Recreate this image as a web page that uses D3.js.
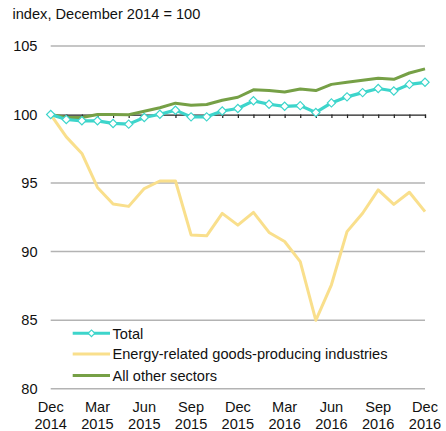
<!DOCTYPE html>
<html>
<head>
    <meta charset="utf-8">
    <script src="https://d3js.org/d3.v7.min.js"></script>
    <style>
        body, html { margin: 0; padding: 0; background: #fff; }
        svg { display: block; font-family: "Liberation Sans", Arial, sans-serif; }
    </style>
</head>
<body>
<div id="chart"></div>
<script>
    // month index 0 = Dec 2014 ... 24 = Dec 2016
    var months = d3.range(25);
    var tickLabels = [
        ["Dec", "2014"], ["Mar", "2015"], ["Jun", "2015"], ["Sep", "2015"], ["Dec", "2015"],
        ["Mar", "2016"], ["Jun", "2016"], ["Sep", "2016"], ["Dec", "2016"]
    ];
    var yTicks = [80, 85, 90, 95, 100, 105];

    var total = [100, 99.64, 99.54, 99.54, 99.35, 99.3, 99.78, 100.02, 100.32, 99.83, 99.83, 100.26,
        100.44, 101.0, 100.75, 100.6, 100.65, 100.15, 100.85, 101.29, 101.6, 101.9, 101.72, 102.2, 102.35];
    var energy = [100, 98.37, 97.16, 94.68, 93.47, 93.3, 94.6, 95.15, 95.15, 91.22, 91.15, 92.79,
        91.93, 92.86, 91.4, 90.74, 89.27, 84.99, 87.58, 91.46, 92.8, 94.5, 93.45, 94.33, 92.92];
    var others = [100, 99.78, 99.78, 100, 100, 99.98, 100.24, 100.5, 100.83, 100.68, 100.73, 101.04,
        101.26, 101.8, 101.75, 101.65, 101.87, 101.75, 102.2, 102.35, 102.5, 102.65, 102.57, 103.03, 103.33];

    var seriesNames = ["Total", "Energy-related goods-producing industries", "All other sectors"];
    var colors = ["#3dd5cb", "#f9df8c", "#76a046"];

    var width = 446, height = 431;
    var fs = 14.6;
    var svg = d3.select("#chart").append("svg")
        .attr("width", width)
        .attr("height", height);

    var x = d3.scaleLinear().domain([0, 24]).range([50.7, 425]);
    var y = d3.scaleLinear().domain([80, 105]).range([388.7, 46]);

    // title
    svg.append("text")
        .attr("x", 12.5)
        .attr("y", 18.5)
        .attr("font-size", fs)
        .attr("fill", "#111")
        .text("index, December 2014 = 100");

    // gridlines
    svg.append("g").selectAll("line")
        .data(yTicks.filter(function(d) { return d !== 100; }))
        .join("line")
        .attr("x1", x(0)).attr("x2", x(24))
        .attr("y1", function(d) { return y(d); })
        .attr("y2", function(d) { return y(d); })
        .attr("stroke", "#b3b3b3")
        .attr("stroke-width", 1.5);

    // y labels
    svg.append("g").selectAll("text")
        .data(yTicks)
        .join("text")
        .attr("x", 37.5)
        .attr("y", function(d) { return y(d) + 5; })
        .attr("text-anchor", "end")
        .attr("font-size", fs)
        .attr("fill", "#111")
        .text(function(d) { return d; });

    // x axis at 100
    var xAxis = d3.axisBottom(x)
        .tickValues(months)
        .tickSize(3.5)
        .tickFormat("");
    var axisG = svg.append("g")
        .attr("transform", "translate(0," + y(100) + ")")
        .call(xAxis);
    axisG.select(".domain").attr("stroke", "#222").attr("stroke-width", 1.2);
    axisG.selectAll(".tick line").attr("stroke", "#222").attr("stroke-width", 1.2);

    // x labels
    var xl = svg.append("g").selectAll("text")
        .data(tickLabels)
        .join("text")
        .attr("text-anchor", "middle")
        .attr("font-size", fs)
        .attr("fill", "#111")
        .attr("transform", function(d, i) { return "translate(" + x(i * 3) + ",0)"; });
    xl.append("tspan").attr("x", 0).attr("y", 412).text(function(d) { return d[0]; });
    xl.append("tspan").attr("x", 0).attr("y", 428.5).text(function(d) { return d[1]; });

    var line = d3.line()
        .x(function(d, i) { return x(i); })
        .y(function(d) { return y(d); });

    svg.append("path").datum(energy)
        .attr("d", line).attr("fill", "none")
        .attr("stroke", colors[1]).attr("stroke-width", 3)
        .attr("stroke-linejoin", "round");
    svg.append("path").datum(others)
        .attr("d", line).attr("fill", "none")
        .attr("stroke", colors[2]).attr("stroke-width", 3)
        .attr("stroke-linejoin", "round");
    svg.append("path").datum(total)
        .attr("d", line).attr("fill", "none")
        .attr("stroke", colors[0]).attr("stroke-width", 3.2)
        .attr("stroke-linejoin", "round");

    var diamond = d3.symbol().type(d3.symbolSquare).size(34);
    svg.append("g").selectAll("path")
        .data(total)
        .join("path")
        .attr("d", diamond)
        .attr("transform", function(d, i) { return "translate(" + x(i) + "," + y(d) + ") rotate(45)"; })
        .attr("fill", "#fff")
        .attr("stroke", colors[0])
        .attr("stroke-width", 1.2);

    // legend
    var legendY = [333.3, 354, 375.5];
    var leg = svg.append("g").selectAll("g")
        .data(seriesNames)
        .join("g")
        .attr("transform", function(d, i) { return "translate(0," + legendY[i] + ")"; });
    leg.append("rect")
        .attr("x", 72).attr("y", -5).attr("width", 40).attr("height", 10)
        .attr("fill", "#fff");
    leg.append("line")
        .attr("x1", 72.7).attr("x2", 110)
        .attr("stroke", function(d, i) { return colors[i]; })
        .attr("stroke-width", 3);
    leg.filter(function(d, i) { return i === 0; })
        .append("path")
        .attr("d", d3.symbol().type(d3.symbolSquare).size(22))
        .attr("transform", "translate(91.5,0) rotate(45)")
        .attr("fill", "#fff")
        .attr("stroke", colors[0])
        .attr("stroke-width", 1.2);
    leg.append("text")
        .attr("x", 112.5)
        .attr("y", 5.2)
        .attr("font-size", fs)
        .attr("fill", "#111")
        .text(function(d) { return d; });
</script>
</body>
</html>
